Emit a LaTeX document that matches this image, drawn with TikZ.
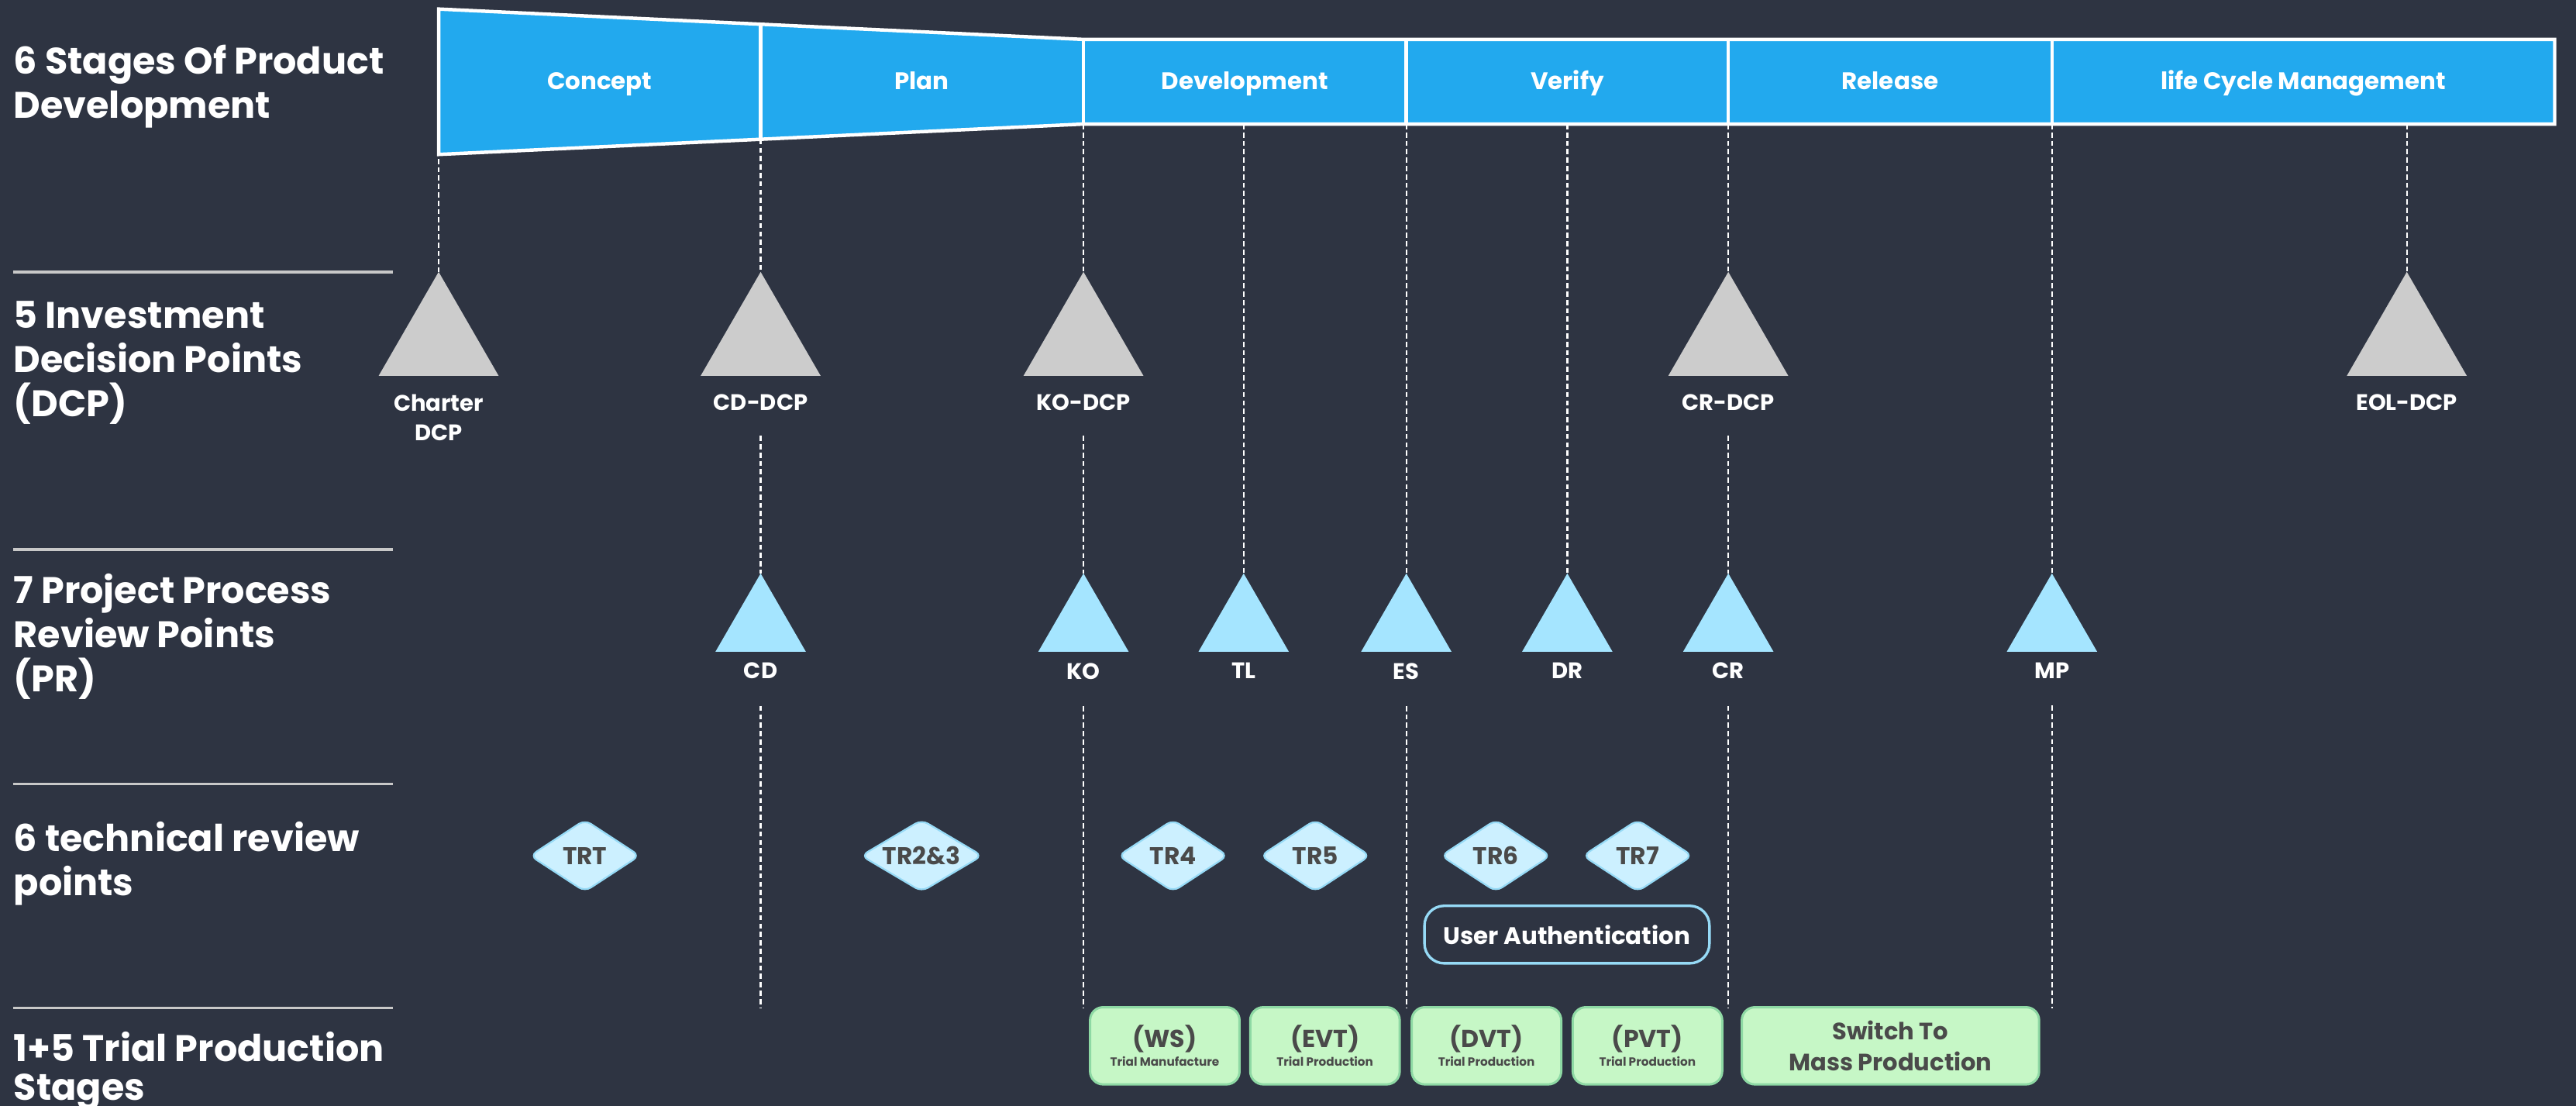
\documentclass[tikz,border=0pt]{standalone}
\usepackage{fontspec}
\setmainfont{Poppins}
\usetikzlibrary{shapes.geometric, positioning}

\definecolor{bgdark}{RGB}{46,52,66}
\definecolor{stageblue}{RGB}{34,169,238}
\definecolor{dcpgray}{RGB}{204,204,204}
\definecolor{prblue}{RGB}{165,229,255}
\definecolor{trfill}{RGB}{204,240,255}
\definecolor{trline}{RGB}{150,218,246}
\definecolor{trialfill}{RGB}{198,247,198}
\definecolor{trialline}{RGB}{142,217,164}
\definecolor{darktext}{RGB}{74,74,74}
\definecolor{sepgray}{RGB}{200,200,200}

\begin{document}
\begin{tikzpicture}[
		x=0.02cm, y=-0.02cm,
		font=\bfseries,
		heading/.style={text=white, anchor=north west, align=left, inner sep=0pt,
			font=\bfseries\fontsize{12.8}{15.3}\selectfont},
		sepline/.style={draw=sepgray, line width=0.9pt},
		banner/.style={fill=stageblue, draw=white, line width=1.2pt},
		stagetext/.style={text=white, inner sep=0pt, anchor=base,
			font=\bfseries\fontsize{8.3}{10}\selectfont},
		dcp/.style={regular polygon, regular polygon sides=3, fill=dcpgray,
			minimum size=1.686cm, inner sep=0pt, outer sep=0pt, anchor=corner 1},
		pr/.style={regular polygon, regular polygon sides=3, fill=prblue,
			minimum size=1.27cm, inner sep=0pt, outer sep=0pt, anchor=corner 1},
		marklabel/.style={text=white, inner sep=0pt, align=center,
			font=\bfseries\fontsize{7.8}{10.2}\selectfont},
		trp/.style={diamond, aspect=1.5, fill=trfill, draw=trline, line width=0.6pt,
			rounded corners=2.5pt, minimum width=1.34cm, minimum height=0.88cm,
			inner sep=0pt, text=darktext, font=\bfseries\fontsize{8.4}{10}\selectfont},
		authbox/.style={draw=trline, line width=0.9pt, rounded corners=0.24cm,
			minimum width=3.47cm, minimum height=0.7cm, text=white,
			font=\bfseries\fontsize{8.3}{10}\selectfont},
		trial/.style={fill=trialfill, draw=trialline, line width=0.8pt,
			rounded corners=0.16cm, minimum width=1.82cm, minimum height=0.94cm,
			inner sep=0pt, align=center, text=darktext,
			font=\bfseries\fontsize{8.5}{10.8}\selectfont},
		dashline/.style={draw=white, line width=0.6pt, dash pattern=on 1.8pt off 1.1pt}
		]
		
		\fill[bgdark] (0,0) rectangle (1568,673);
		\useasboundingbox (0,0) rectangle (1568,673);
		
		% ==========================================
		% ROW HEADINGS
		% ==========================================
		\node[heading] (hStages) at (8,27) {6 Stages Of Product\\Development};
		\node[heading] (hDCP) at (8,183) {5 Investment\\Decision Points\\(DCP)};
		\node[heading] (hPR) at (8,349) {7 Project Process\\Review Points\\(PR)};
		\node[heading] (hTR) at (8,500) {6 technical review\\points};
		\node[heading, font=\bfseries\fontsize{12.8}{13.4}\selectfont] (hTrial) at (8,627.5)
		{1+5 Trial Production\\Stages};
		
		\draw[sepline] (8,165.5) -- (239,165.5);
		\draw[sepline] (8,334.5) -- (239,334.5);
		\draw[sepline] (8,477) -- (239,477);
		\draw[sepline] (8,613.5) -- (239,613.5);
		
		% ==========================================
		% STAGES BANNER
		% ==========================================
		\filldraw[banner] (267,5.5) -- (659.5,24) -- (1555,24) -- (1555,75.5)
		-- (659.5,75.5) -- (267,94) -- cycle;
		\draw[white, line width=1.2pt] (463,14.7) -- (463,84.8);
		\draw[white, line width=1.2pt] (659.5,24) -- (659.5,75.5);
		\draw[white, line width=1.2pt] (856,24) -- (856,75.5);
		\draw[white, line width=1.2pt] (1052,24) -- (1052,75.5);
		\draw[white, line width=1.2pt] (1249,24) -- (1249,75.5);
		
		\coordinate (b0) at (267,94);
		\coordinate (b1) at (463,84.8);
		\coordinate (b2) at (659.5,75.5);
		\coordinate (bTL) at (757,75.5);
		\coordinate (b3) at (856,75.5);
		\coordinate (bDR) at (954,75.5);
		\coordinate (b4) at (1052,75.5);
		\coordinate (b5) at (1249,75.5);
		\coordinate (bEOL) at (1465,75.5);
		
		\node[stagetext] (sConcept) at (365,54.3) {Concept};
		\node[stagetext] (sPlan) at (561,54.3) {Plan};
		\node[stagetext] (sDev) at (757.7,54.3) {Development};
		\node[stagetext] (sVerify) at (954,54.3) {Verify};
		\node[stagetext] (sRelease) at (1150.5,54.3) {Release};
		\node[stagetext] (sLCM) at (1402,54.3) {life Cycle Management};
		
		% ==========================================
		% INVESTMENT DECISION POINTS (DCP)
		% ==========================================
		\node[dcp] (dcpCharter) at (267,165.5) {};
		\node[dcp] (dcpCD) at (463,165.5) {};
		\node[dcp] (dcpKO) at (659.5,165.5) {};
		\node[dcp] (dcpCR) at (1052,165.5) {};
		\node[dcp] (dcpEOL) at (1465,165.5) {};
		
		\node[marklabel, below=0.22cm of dcpCharter] (lCharter) {Charter\\DCP};
		\node[marklabel, below=0.22cm of dcpCD] (lCDDCP) {CD-DCP};
		\node[marklabel, below=0.22cm of dcpKO] (lKODCP) {KO-DCP};
		\node[marklabel, below=0.22cm of dcpCR] (lCRDCP) {CR-DCP};
		\node[marklabel, below=0.22cm of dcpEOL] (lEOLDCP) {EOL-DCP};
		
		% ==========================================
		% PROJECT PROCESS REVIEW POINTS (PR)
		% ==========================================
		\node[pr] (prCD) at (463,349) {};
		\node[pr] (prKO) at (659.5,349) {};
		\node[pr] (prTL) at (757,349) {};
		\node[pr] (prES) at (856,349) {};
		\node[pr] (prDR) at (954,349) {};
		\node[pr] (prCR) at (1052,349) {};
		\node[pr] (prMP) at (1249,349) {};
		
		\node[marklabel, below=0.13cm of prCD] (lCD) {CD};
		\node[marklabel, below=0.13cm of prKO] (lKO) {KO};
		\node[marklabel, below=0.13cm of prTL] (lTL) {TL};
		\node[marklabel, below=0.13cm of prES] (lES) {ES};
		\node[marklabel, below=0.13cm of prDR] (lDR) {DR};
		\node[marklabel, below=0.13cm of prCR] (lCR) {CR};
		\node[marklabel, below=0.13cm of prMP] (lMP) {MP};
		
		% ==========================================
		% TECHNICAL REVIEW POINTS
		% ==========================================
		\node[trp] (trT) at (356,520.8) {TRT};
		\node[trp, minimum width=1.48cm] (tr23) at (561,520.8) {TR2\&3};
		\node[trp] (tr4) at (714,520.8) {TR4};
		\node[trp] (tr5) at (800.6,520.8) {TR5};
		\node[trp] (tr6) at (910.5,520.8) {TR6};
		\node[trp] (tr7) at (996.8,520.8) {TR7};
		
		\node[authbox] (auth) at (953.8,568.8) {User Authentication};
		
		% ==========================================
		% TRIAL PRODUCTION STAGES
		% ==========================================
		\node[trial] (ws) at (709,636.5)
		{(WS)\\[-4.5pt]{\fontsize{4.1}{5}\selectfont Trial Manufacture}};
		\node[trial] (evt) at (806.5,636.5)
		{(EVT)\\[-4.5pt]{\fontsize{4.1}{5}\selectfont Trial Production}};
		\node[trial] (dvt) at (904.8,636.5)
		{(DVT)\\[-4.5pt]{\fontsize{4.1}{5}\selectfont Trial Production}};
		\node[trial] (pvt) at (1002.8,636.5)
		{(PVT)\\[-4.5pt]{\fontsize{4.1}{5}\selectfont Trial Production}};
		\node[trial, minimum width=3.62cm, font=\bfseries\fontsize{8.2}{10.8}\selectfont]
		(mass) at (1150.7,636.5) {Switch To\\Mass Production};
		
		% ==========================================
		% DASHED GUIDES
		% ==========================================
		\coordinate (eCD) at (463,613.5);
		\coordinate (eKO) at (659.5,613.5);
		\coordinate (eES) at (856,613.5);
		\coordinate (eCR) at (1052,613.5);
		\coordinate (eMP) at (1249,613.5);
		
		\draw[dashline, shorten <=1.5pt] (b0) -- (dcpCharter.north);
		\draw[dashline] (b1) -- (dcpCD.north);
		\draw[dashline] (b2) -- (dcpKO.north);
		\draw[dashline] (bTL) -- (prTL.north);
		\draw[dashline] (b3) -- (prES.north);
		\draw[dashline] (bDR) -- (prDR.north);
		\draw[dashline] (b4) -- (dcpCR.north);
		\draw[dashline] (b5) -- (prMP.north);
		\draw[dashline] (bEOL) -- (dcpEOL.north);
		
		\draw[dashline, shorten <=0.3cm] (lCDDCP.south) -- (prCD.north);
		\draw[dashline, shorten <=0.3cm] (lKODCP.south) -- (prKO.north);
		\draw[dashline, shorten <=0.3cm] (lCRDCP.south) -- (prCR.north);
		
		\draw[dashline, shorten <=0.32cm] (lCD.south) -- (eCD);
		\draw[dashline, shorten <=0.32cm] (lKO.south) -- (eKO);
		\draw[dashline, shorten <=0.32cm] (lES.south) -- (eES);
		\draw[dashline, shorten <=0.32cm] (lCR.south) -- (eCR);
		\draw[dashline, shorten <=0.32cm] (lMP.south) -- (eMP);
		
	\end{tikzpicture}
\end{document}
